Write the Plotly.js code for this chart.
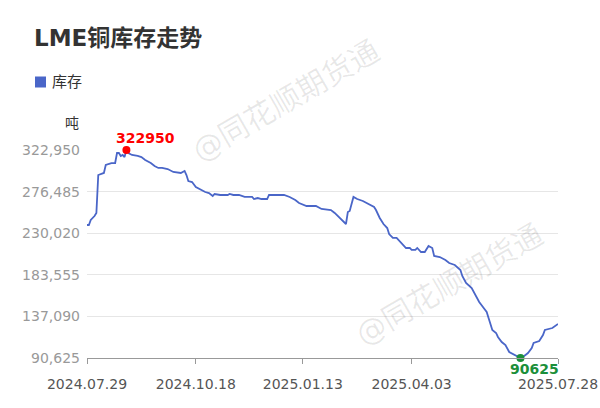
<!DOCTYPE html>
<html>
<head>
<meta charset="utf-8">
<script src="https://cdn.plot.ly/plotly-3.0.1.min.js"></script>
<style>html,body{margin:0;padding:0;background:#fff;}#chart{width:600px;height:408px;}</style>
</head>
<body>
<div id="chart"></div>
<script>
// trading-day index (0 = 2024.07.29, 251 = 2025.07.28)
var dayIdx = [0,1,2,4,5,6,9,10,13,15,16,17,18,19,20,21,22,24,27,29,31,34,36,38,40,43,46,50,52,53,54,56,58,60,63,65,67,68,71,75,76,78,81,84,86,88,89,91,93,96,97,105,108,111,113,117,120,122,125,130,132,135,138,139,140,142,144,147,150,152,153,154,156,158,160,161,163,165,167,168,170,172,173,175,176,178,180,182,184,185,188,191,193,196,199,200,202,205,207,209,211,213,214,216,218,219,221,223,225,228,231,233,235,237,238,241,243,244,246,248,251];
// LME copper stock, tonnes
var stock = [239200,239200,244800,249200,252600,295000,297300,306200,308400,308400,319600,319600,316300,317400,315100,322950,319600,317400,316300,315100,311800,308400,305100,302900,302900,301700,298400,297300,299500,295000,288300,287200,281600,279400,276000,274900,271600,273800,272700,272700,273800,272700,272700,270500,270500,270500,268200,269300,268200,268200,272700,272700,270500,267100,263800,260400,260400,260400,257100,255900,252600,247000,240300,253700,254800,270500,268200,266000,262600,260400,259300,255900,247000,240300,235800,229100,224700,224700,220200,216800,213500,213500,211300,211300,213500,209000,209000,215700,213500,204600,203400,200100,196700,194500,188900,182200,174400,168800,161000,153200,147600,142000,135300,121900,118600,114100,108500,105100,97300,94000,90625,92900,96200,101800,107400,109600,116300,121900,123000,124100,128600];
var xTickVals = [0,58,115,173,251];
var xTickText = ["2024.07.29","2024.10.18","2025.01.13","2025.04.03","2025.07.28"];
var yTickVals = [90625,137090,183555,230020,276485,322950];
var seriesName = "库存";
var unitLabel = "吨";
var titleText = "LME铜库存走势";
var watermark = "@同花顺期货通";

var maxI = 0, minI = 0;
for (var i = 0; i < stock.length; i++) {
  if (stock[i] > stock[maxI]) maxI = i;
  if (stock[i] < stock[minI]) minI = i;
}

var FONT = "DejaVu Sans, Noto Sans CJK SC, sans-serif";
var blue = "#4a66c8";
var W = 600, H = 408;

var traces = [
  {type:"scatter", mode:"lines", name:seriesName, x:dayIdx, y:stock, line:{color:blue, width:1.8}, showlegend:false, cliponaxis:false, hoverinfo:"x+y"},
  {type:"scatter", mode:"markers", x:[dayIdx[maxI]], y:[stock[maxI]], marker:{color:"#ff0000", size:8}, showlegend:false, cliponaxis:false},
  {type:"scatter", mode:"markers", x:[dayIdx[minI]], y:[stock[minI]], marker:{color:"#1b8f3a", size:8}, showlegend:false, cliponaxis:false}
];

function px(x){ return (x-87)/471; }
function py(y){ return (358-y)/208; }

var layout = {
  width:W, height:H,
  margin:{l:87, r:42, t:150, b:50, pad:0},
  paper_bgcolor:"#fff", plot_bgcolor:"#fff",
  font:{family:FONT, color:"#333"},
  title:{text:"<b>"+titleText+"</b>", font:{size:23, color:"#333", family:FONT}, xref:"container", yref:"container", x:34/W, xanchor:"left", y:1-38/H, yanchor:"middle"},
  showlegend:false,
  xaxis:{range:[0,251], tickmode:"array", tickvals:xTickVals, ticktext:xTickText, showgrid:false, zeroline:false, showline:true, linecolor:"#999", linewidth:1, ticks:"outside", ticklen:5, tickcolor:"#999", tickfont:{size:14, color:"#555"}, ticklabelstandoff:8, automargin:false, fixedrange:true},
  yaxis:{range:[90625,322950], tickmode:"array", tickvals:yTickVals, tickformat:",d", showgrid:true, gridcolor:"#e6e6e6", gridwidth:1, zeroline:false, showline:false, ticks:"", tickfont:{size:14, color:"#999"}, ticklabelstandoff:6, automargin:false, fixedrange:true},
  shapes:[
    {type:"rect", xref:"paper", yref:"paper", x0:px(35), x1:px(46), y0:py(87.5), y1:py(76.5), fillcolor:blue, line:{width:0}, layer:"above"}
  ],
  annotations:[
    {xref:"paper", yref:"paper", x:px(50), y:py(82), xanchor:"left", yanchor:"middle", text:seriesName, showarrow:false, font:{size:15, color:"#333"}},
    {xref:"paper", yref:"paper", x:px(81), y:py(123), xanchor:"right", yanchor:"middle", text:unitLabel, showarrow:false, font:{size:14, color:"#333"}},
    {x:dayIdx[maxI], y:stock[maxI], xanchor:"left", yanchor:"middle", xshift:-12, yshift:12, text:"<b>"+stock[maxI]+"</b>", showarrow:false, font:{size:14, color:"#ff0000"}},
    {x:dayIdx[minI], y:stock[minI], xanchor:"left", yanchor:"middle", xshift:-12, yshift:-11, text:"<b>"+stock[minI]+"</b>", showarrow:false, font:{size:14, color:"#1b8f3a"}},
    {xref:"paper", yref:"paper", x:px(286), y:py(101), xanchor:"center", yanchor:"middle", text:watermark, textangle:-30, showarrow:false, font:{size:30, color:"rgba(0,0,0,0.09)"}},
    {xref:"paper", yref:"paper", x:px(449), y:py(284), xanchor:"center", yanchor:"middle", text:watermark, textangle:-30, showarrow:false, font:{size:30, color:"rgba(0,0,0,0.09)"}}
  ]
};

Plotly.newPlot("chart", traces, layout, {displayModeBar:false, staticPlot:true});
</script>
</body>
</html>
